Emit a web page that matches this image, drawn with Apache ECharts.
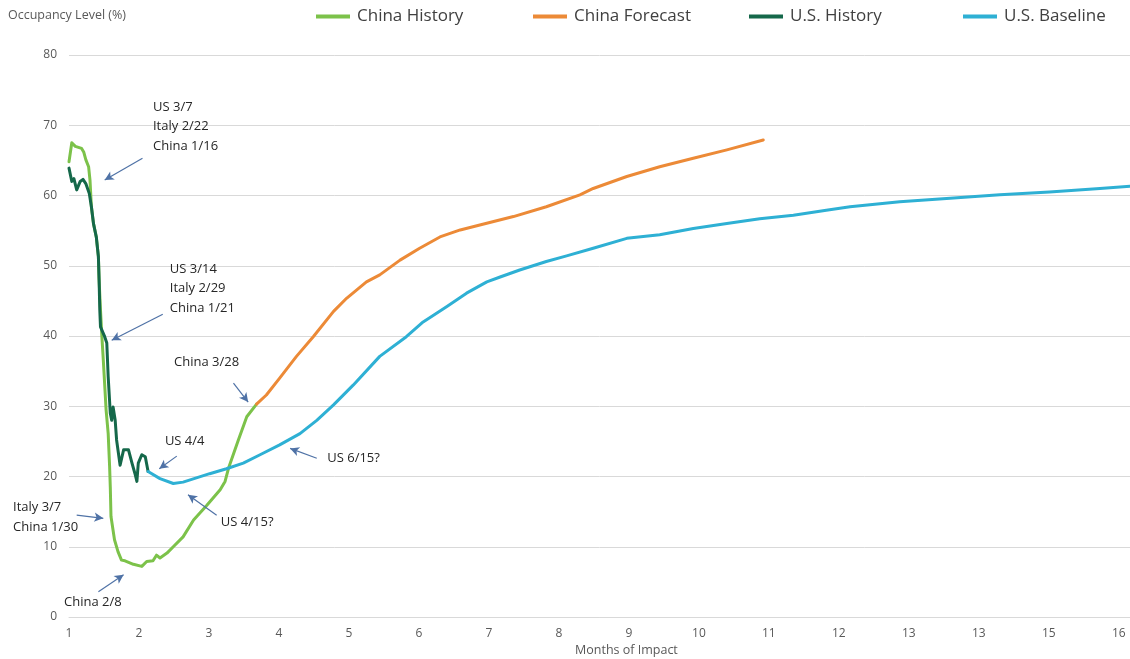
<!DOCTYPE html>
<html>
<head>
<meta charset="utf-8">
<title>Occupancy Level</title>
<script src="https://cdn.jsdelivr.net/npm/echarts@6/dist/echarts.min.js"></script>
<style>
  html, body { margin: 0; padding: 0; background: #ffffff; }
  #chart { width: 1130px; height: 659px; }
</style>
</head>
<body>
<div id="chart"></div>
<script>
// Tick labels along the months axis (as printed, one per month)
const monthLabels = ['1', '2', '3', '4', '5', '6', '7', '8', '9', '10', '11', '12', '13', '13', '15', '16'];

const seriesNames = ['China History', 'China Forecast', 'U.S. History', 'U.S. Baseline'];

// [months of impact, occupancy %]
const chinaHistory = [
  [1.00, 64.8], [1.04, 67.5], [1.09, 67.0], [1.18, 66.7], [1.21, 66.2], [1.24, 65.1],
  [1.28, 64.1], [1.30, 62.2], [1.32, 58.4], [1.35, 56.0], [1.39, 54.1], [1.42, 51.3],
  [1.43, 48.0], [1.45, 43.7], [1.47, 39.9], [1.49, 36.6], [1.53, 29.5], [1.56, 26.1],
  [1.58, 21.5], [1.59, 18.5], [1.60, 14.3], [1.65, 11.0], [1.70, 9.3], [1.75, 8.1],
  [1.80, 8.0], [1.92, 7.5], [2.04, 7.2], [2.11, 7.9], [2.20, 8.0], [2.25, 8.8],
  [2.30, 8.4], [2.40, 9.1], [2.49, 10.0], [2.63, 11.4], [2.78, 13.8], [2.97, 15.9],
  [3.16, 18.1], [3.23, 19.3], [3.28, 21.2], [3.42, 25.2], [3.54, 28.5], [3.68, 30.3]
];

const chinaForecast = [
  [3.68, 30.3], [3.82, 31.6], [4.01, 34.0], [4.25, 37.1], [4.49, 39.9], [4.78, 43.5],
  [4.97, 45.4], [5.25, 47.7], [5.44, 48.7], [5.73, 50.8], [6.01, 52.5], [6.30, 54.1],
  [6.59, 55.1], [6.87, 55.8], [7.35, 57.0], [7.82, 58.4], [8.30, 60.1], [8.49, 61.0],
  [8.97, 62.7], [9.44, 64.1], [9.92, 65.3], [10.40, 66.5], [10.92, 67.9]
];

const usHistory = [
  [1.00, 63.9], [1.04, 62.0], [1.07, 62.4], [1.11, 60.8], [1.16, 62.0], [1.20, 62.3],
  [1.24, 61.7], [1.29, 60.3], [1.32, 58.4], [1.35, 56.0], [1.39, 54.1], [1.42, 51.3],
  [1.43, 48.0], [1.44, 43.7], [1.45, 41.3], [1.51, 39.9], [1.54, 39.0], [1.56, 34.2],
  [1.59, 29.0], [1.61, 28.0], [1.63, 29.9], [1.66, 28.0], [1.68, 25.2], [1.73, 21.6],
  [1.78, 23.8], [1.85, 23.8], [1.90, 21.9], [1.94, 20.5], [1.97, 19.3], [1.99, 21.9],
  [2.04, 23.1], [2.09, 22.8], [2.13, 20.7]
];

const usBaseline = [
  [2.13, 20.7], [2.30, 19.7], [2.49, 19.0], [2.63, 19.2], [2.82, 19.8], [3.01, 20.4],
  [3.25, 21.1], [3.49, 21.9], [3.73, 23.1], [4.01, 24.5], [4.30, 26.1], [4.54, 28.0],
  [4.78, 30.2], [5.06, 33.0], [5.44, 37.1], [5.82, 39.9], [6.06, 42.0], [6.40, 44.2],
  [6.68, 46.1], [6.97, 47.7], [7.16, 48.4], [7.44, 49.4], [7.82, 50.6], [8.11, 51.4],
  [8.49, 52.5], [8.97, 53.9], [9.44, 54.4], [9.92, 55.3], [10.40, 56.0], [10.87, 56.7],
  [11.35, 57.2], [11.82, 57.9], [12.16, 58.4], [12.87, 59.1], [13.59, 59.6], [14.30, 60.1],
  [15.01, 60.5], [15.73, 61.0], [16.16, 61.3]
];

// Callout texts, anchored at their top-left corner in data units
const noteTexts = [
  { text: 'US 3/7\nItaly 2/22\nChina 1/16', at: [2.20, 74.0] },
  { text: 'US 3/14\nItaly 2/29\nChina 1/21', at: [2.44, 50.9] },
  { text: 'China 3/28', at: [2.50, 37.6] },
  { text: 'US 4/4', at: [2.37, 26.4] },
  { text: 'US 6/15?', at: [4.69, 24.0] },
  { text: 'US 4/15?', at: [3.17, 14.9] },
  { text: 'Italy 3/7\nChina 1/30', at: [1.00, 17.0], shift: -56 },
  { text: 'China 2/8', at: [1.00, 3.5], shift: -5 }
];

// Callout arrows: [tail, head] in data units
const noteArrows = [
  [[2.05, 65.3], [1.51, 62.2]],
  [[2.34, 43.1], [1.61, 39.4]],
  [[3.35, 33.3], [3.56, 30.6]],
  [[2.54, 22.9], [2.29, 21.1]],
  [[4.54, 22.6], [4.16, 24.0]],
  [[3.11, 14.5], [2.70, 17.4]],
  [[1.11, 14.5], [1.49, 14.05]],
  [[1.42, 3.6], [1.78, 6.0]]
];

const colors = ['#7cc24a', '#ec8a37', '#15684a', '#2eb0d4'];
const legendLeft = [311, 528, 744, 958];
const FONT = '"Open Sans", "Noto Sans", sans-serif';
const GREY = '#595959';

const chart = echarts.init(document.getElementById('chart'), null, { renderer: 'canvas' });

function lineSeries(name, data, color) {
  return {
    name: name,
    type: 'line',
    data: data,
    showSymbol: false,
    symbol: 'none',
    smooth: false,
    color: color,
    lineStyle: { color: color, width: 3, join: 'round', cap: 'round' },
    emphasis: { disabled: true },
    silent: true,
    animation: false
  };
}

const option = {
  animation: false,
  backgroundColor: '#ffffff',
  textStyle: { fontFamily: FONT },
  grid: { left: 69, right: 0, top: 55, bottom: 42, containLabel: false },
  legend: seriesNames.map((n, i) => ({
    data: [n],
    left: legendLeft[i],
    top: 3,
    icon: 'rect',
    itemWidth: 34,
    itemHeight: 4,
    itemGap: 0,
    selectedMode: false,
    textStyle: { fontFamily: FONT, fontSize: 17, color: '#404040', padding: [0, 0, 0, 2] }
  })),
  xAxis: {
    type: 'value',
    min: 1,
    max: 16.16,
    interval: 1,
    axisLine: { show: true, lineStyle: { color: '#d9d9d9', width: 1 } },
    axisTick: { show: false },
    splitLine: { show: false },
    axisLabel: {
      color: GREY,
      fontSize: 12,
      fontFamily: FONT,
      margin: 11,
      showMaxLabel: false,
      formatter: v => (Math.abs(v - Math.round(v)) < 1e-6 ? (monthLabels[Math.round(v) - 1] || '') : '')
    }
  },
  yAxis: {
    type: 'value',
    min: 0,
    max: 80,
    interval: 10,
    axisLine: { show: false },
    axisTick: { show: false },
    splitLine: { show: true, lineStyle: { color: '#d9d9d9', width: 1 } },
    axisLabel: { color: GREY, fontSize: 12, fontFamily: FONT, margin: 12 }
  },
  graphic: [
    { type: 'text', left: 8, top: 9, style: { text: 'Occupancy Level (%)', fill: GREY, font: '12.5px ' + FONT } },
    { type: 'text', left: 575, top: 644, style: { text: 'Months of Impact', fill: GREY, font: '12.5px ' + FONT } }
  ],
  series: [
    lineSeries(seriesNames[0], chinaHistory, colors[0]),
    lineSeries(seriesNames[1], chinaForecast, colors[1]),
    lineSeries(seriesNames[2], usHistory, colors[2]),
    lineSeries(seriesNames[3], usBaseline, colors[3]),
    {
      name: 'callouts',
      type: 'line',
      data: [],
      silent: true,
      animation: false,
      markLine: {
        silent: true,
        animation: false,
        symbol: ['none', 'arrow'],
        symbolSize: [7, 9],
        label: { show: false },
        emphasis: { disabled: true },
        lineStyle: { color: '#4f72a6', width: 1.2, type: 'solid' },
        data: noteArrows.map(a => [{ coord: a[0] }, { coord: a[1] }])
      },
      markPoint: {
        silent: true,
        animation: false,
        symbol: 'circle',
        symbolSize: 0,
        itemStyle: { color: 'transparent' },
        data: noteTexts.map(n => ({
          coord: n.at,
          label: {
            show: true,
            formatter: n.text,
            position: [0, 0],
            offset: [n.shift || 0, 0],
            align: 'left',
            verticalAlign: 'top',
            color: '#262626',
            fontSize: 13,
            lineHeight: 19.5,
            fontFamily: FONT
          }
        }))
      }
    }
  ]
};

chart.setOption(option);
</script>
</body>
</html>
